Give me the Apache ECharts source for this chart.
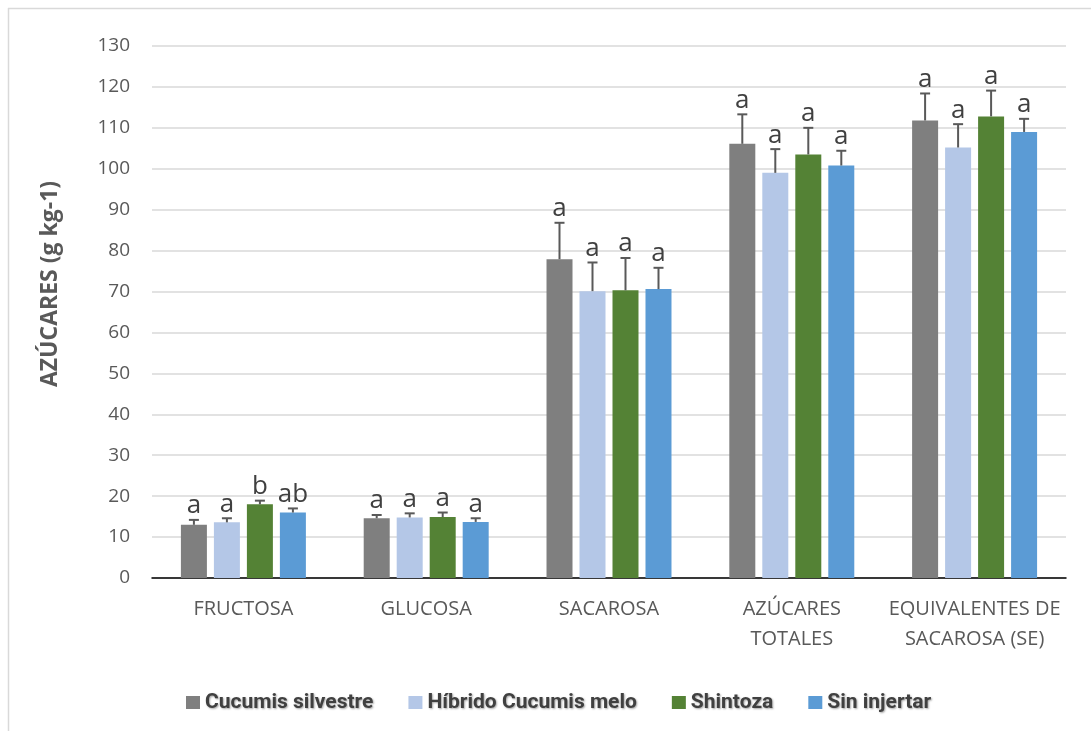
<!DOCTYPE html>
<html>
<head>
<meta charset="utf-8">
<script src="https://cdn.jsdelivr.net/npm/echarts@6/dist/echarts.min.js"></script>
<style>html,body{margin:0;padding:0;background:#fff}#c{width:1091px;height:731px}</style>
</head>
<body>
<div id="c"></div>
<script>
const categories = ['FRUCTOSA', 'GLUCOSA', 'SACAROSA', 'AZÚCARES\nTOTALES', 'EQUIVALENTES DE\nSACAROSA (SE)'];
const seriesNames = ['Cucumis silvestre', 'Híbrido Cucumis melo', 'Shintoza', 'Sin injertar'];
const cucumisSilvestre = [13.0, 14.6, 77.9, 106.1, 111.8];
const hibridoCucumisMelo = [13.6, 14.8, 70.1, 99.0, 105.2];
const shintoza = [18.0, 14.9, 70.3, 103.5, 112.8];
const sinInjertar = [16.0, 13.7, 70.6, 100.8, 109.0];
const errTopCucumisSilvestre = [14.2, 15.4, 86.8, 113.3, 118.4];
const errTopHibrido = [14.6, 15.8, 77.1, 104.8, 110.9];
const errTopShintoza = [18.9, 16.0, 78.2, 110.0, 119.1];
const errTopSinInjertar = [17.0, 14.6, 75.8, 104.4, 112.2];
const lettersCucumisSilvestre = ['a', 'a', 'a', 'a', 'a'];
const lettersHibrido = ['a', 'a', 'a', 'a', 'a'];
const lettersShintoza = ['b', 'a', 'a', 'a', 'a'];
const lettersSinInjertar = ['ab', 'a', 'a', 'a', 'a'];
const yTicks = [0, 10, 20, 30, 40, 50, 60, 70, 80, 90, 100, 110, 120, 130];

const values = [cucumisSilvestre, hibridoCucumisMelo, shintoza, sinInjertar];
const errTops = [errTopCucumisSilvestre, errTopHibrido, errTopShintoza, errTopSinInjertar];
const letters = [lettersCucumisSilvestre, lettersHibrido, lettersShintoza, lettersSinInjertar];
const colors = ['#7f7f7f', '#b4c7e7', '#548235', '#5b9bd5'];

const BAR_W = 26, BAR_GAP = 7;
const chart = echarts.init(document.getElementById('c'));

const series = [];
values.forEach((v, i) => {
  series.push({
    name: seriesNames[i], type: 'bar', data: v, barWidth: BAR_W,
    barGap: (BAR_GAP / BAR_W * 100).toFixed(1) + '%',
    itemStyle: { color: colors[i] }, silent: true
  });
});
values.forEach((v, i) => {
  const offset = (i - 1.5) * (BAR_W + BAR_GAP);
  series.push({
    type: 'custom', silent: true, z: 5,
    data: v.map((val, k) => [k, val, errTops[i][k], letters[i][k]]),
    encode: { x: 0, y: [1, 2] },
    renderItem: function (params, api) {
      const k = api.value(0);
      const p0 = api.coord([k, api.value(1)]);
      const p1 = api.coord([k, api.value(2)]);
      const x = p0[0] + offset;
      const letter = letters[i][params.dataIndex];
      return {
        type: 'group',
        children: [
          { type: 'line', shape: { x1: x, y1: p0[1], x2: x, y2: p1[1] }, style: { stroke: '#595959', lineWidth: 2 } },
          { type: 'line', shape: { x1: x - 5, y1: p1[1], x2: x + 5, y2: p1[1] }, style: { stroke: '#595959', lineWidth: 2 } },
          { type: 'text', style: { text: letter, x: x, y: p1[1] - 1, align: 'center', verticalAlign: 'bottom', font: '26px "Open Sans"', fill: '#404040' } }
        ]
      };
    }
  });
});

chart.setOption({
  animation: false,
  backgroundColor: '#fff',
  graphic: [
    { type: 'line', shape: { x1: 8, y1: 8.5, x2: 1091, y2: 8.5 }, style: { stroke: '#d9d9d9', lineWidth: 1.5 } },
    { type: 'line', shape: { x1: 8.5, y1: 8, x2: 8.5, y2: 731 }, style: { stroke: '#d9d9d9', lineWidth: 1.5 } }
  ],
  grid: { left: 152, right: 25, top: 46, bottom: 153 },
  legend: {
    data: seriesNames, left: 181, top: 687, itemWidth: 14, itemHeight: 13, itemGap: 35,
    icon: 'rect',
    textStyle: { fontFamily: 'Roboto', fontWeight: 'bold', fontSize: 21, color: '#404040',
      textShadowColor: 'rgba(0,0,0,0.35)', textShadowBlur: 2, textShadowOffsetX: 1, textShadowOffsetY: 1 }
  },
  xAxis: {
    type: 'category', data: categories,
    axisLine: { lineStyle: { color: '#000', width: 1.5 } },
    axisTick: { show: false },
    axisLabel: { fontFamily: 'Open Sans', fontSize: 20, color: '#595959', lineHeight: 30, margin: 16, interval: 0 }
  },
  yAxis: {
    type: 'value', min: yTicks[0], max: yTicks[yTicks.length - 1], interval: yTicks[1] - yTicks[0],
    name: 'AZÚCARES (g kg-1)', nameLocation: 'middle', nameGap: 90,
    nameTextStyle: { fontFamily: 'Open Sans', fontWeight: 'bold', fontSize: 23, color: '#595959', padding: [0, 0, 0, 56] },
    axisLine: { show: false }, axisTick: { show: false },
    axisLabel: { fontFamily: 'Open Sans', fontSize: 19, color: '#595959', margin: 22 },
    splitLine: { lineStyle: { color: '#d9d9d9', width: 1.5 } }
  },
  series: series
});
</script>
</body>
</html>
